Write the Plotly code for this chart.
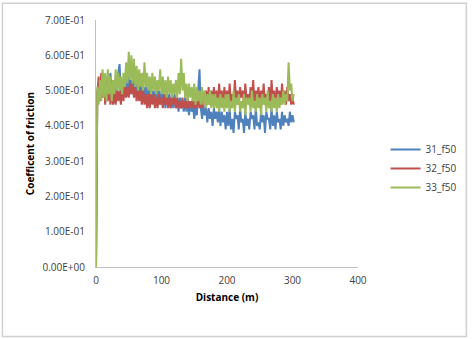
import plotly.graph_objects as go

distance = list(range(0, 304, 2))

s31_f50 = [
    0.0, 0.50, 0.47, 0.53, 0.48, 0.55, 0.49, 0.54, 0.47, 0.52,
    0.48, 0.55, 0.49, 0.53, 0.47, 0.52, 0.48, 0.55, 0.575, 0.49,
    0.53, 0.48, 0.52, 0.49, 0.54, 0.50, 0.55, 0.49, 0.53, 0.50,
    0.54, 0.49, 0.52, 0.48, 0.53, 0.49, 0.52, 0.48, 0.51, 0.47,
    0.52, 0.48, 0.51, 0.47, 0.50, 0.46, 0.51, 0.47, 0.50, 0.46,
    0.50, 0.47, 0.49, 0.45, 0.50, 0.46, 0.49, 0.45, 0.48, 0.45,
    0.49, 0.45, 0.48, 0.44, 0.48, 0.45, 0.47, 0.44, 0.48, 0.44,
    0.47, 0.43, 0.47, 0.44, 0.46, 0.42, 0.46, 0.43, 0.50, 0.56,
    0.45, 0.42, 0.46, 0.43, 0.45, 0.41, 0.45, 0.42, 0.44, 0.40,
    0.45, 0.42, 0.44, 0.41, 0.45, 0.40, 0.44, 0.41, 0.43, 0.39,
    0.44, 0.40, 0.45, 0.39, 0.42, 0.38, 0.44, 0.42, 0.43, 0.39,
    0.45, 0.41, 0.42, 0.38, 0.44, 0.40, 0.42, 0.39, 0.44, 0.42,
    0.43, 0.39, 0.45, 0.40, 0.41, 0.39, 0.44, 0.41, 0.43, 0.38,
    0.44, 0.42, 0.42, 0.39, 0.45, 0.40, 0.43, 0.39, 0.44, 0.41,
    0.42, 0.39, 0.44, 0.40, 0.43, 0.41, 0.42, 0.40, 0.44, 0.41,
    0.43, 0.41,
]

s32_f50 = [
    0.0, 0.49, 0.54, 0.47, 0.55, 0.48, 0.53, 0.46, 0.52, 0.47,
    0.51, 0.46, 0.50, 0.46, 0.49, 0.46, 0.50, 0.47, 0.50, 0.46,
    0.51, 0.47, 0.52, 0.48, 0.51, 0.48, 0.52, 0.49, 0.515, 0.48,
    0.51, 0.47, 0.50, 0.47, 0.50, 0.46, 0.50, 0.46, 0.49, 0.45,
    0.49, 0.45, 0.49, 0.46, 0.49, 0.45, 0.48, 0.45, 0.49, 0.46,
    0.48, 0.45, 0.49, 0.46, 0.48, 0.45, 0.48, 0.45, 0.49, 0.46,
    0.48, 0.45, 0.48, 0.45, 0.47, 0.45, 0.48, 0.45, 0.47, 0.45,
    0.48, 0.45, 0.47, 0.45, 0.48, 0.45, 0.47, 0.45, 0.48, 0.45,
    0.47, 0.45, 0.48, 0.46, 0.50, 0.46, 0.51, 0.46, 0.50, 0.46,
    0.51, 0.47, 0.50, 0.46, 0.52, 0.47, 0.50, 0.46, 0.51, 0.47,
    0.50, 0.46, 0.52, 0.47, 0.49, 0.46, 0.53, 0.47, 0.50, 0.46,
    0.51, 0.48, 0.50, 0.46, 0.52, 0.47, 0.49, 0.46, 0.51, 0.47,
    0.53, 0.46, 0.50, 0.48, 0.51, 0.46, 0.50, 0.47, 0.52, 0.46,
    0.49, 0.47, 0.51, 0.46, 0.53, 0.47, 0.50, 0.46, 0.51, 0.48,
    0.50, 0.46, 0.52, 0.47, 0.50, 0.46, 0.51, 0.47, 0.49, 0.46,
    0.48, 0.46,
]

s33_f50 = [
    0.0, 0.51, 0.46, 0.53, 0.47, 0.56, 0.48, 0.55, 0.47, 0.56,
    0.49, 0.54, 0.47, 0.53, 0.49, 0.56, 0.50, 0.55, 0.50, 0.54,
    0.49, 0.55, 0.51, 0.58, 0.52, 0.61, 0.53, 0.60, 0.52, 0.59,
    0.51, 0.57, 0.50, 0.56, 0.51, 0.55, 0.50, 0.58, 0.51, 0.55,
    0.50, 0.54, 0.49, 0.55, 0.50, 0.54, 0.49, 0.53, 0.50, 0.56,
    0.49, 0.54, 0.49, 0.53, 0.48, 0.54, 0.49, 0.53, 0.48, 0.52,
    0.49, 0.53, 0.48, 0.55, 0.49, 0.59, 0.50, 0.55, 0.48, 0.52,
    0.47, 0.52, 0.48, 0.51, 0.47, 0.52, 0.46, 0.51, 0.47, 0.50,
    0.46, 0.51, 0.46, 0.50, 0.45, 0.49, 0.46, 0.50, 0.45, 0.49,
    0.45, 0.49, 0.45, 0.48, 0.44, 0.49, 0.45, 0.48, 0.44, 0.49,
    0.45, 0.49, 0.44, 0.47, 0.45, 0.50, 0.44, 0.48, 0.46, 0.49,
    0.44, 0.47, 0.45, 0.49, 0.43, 0.48, 0.46, 0.48, 0.44, 0.50,
    0.45, 0.47, 0.44, 0.49, 0.45, 0.48, 0.43, 0.49, 0.46, 0.48,
    0.44, 0.50, 0.45, 0.47, 0.44, 0.49, 0.45, 0.48, 0.44, 0.49,
    0.45, 0.48, 0.46, 0.50, 0.46, 0.49, 0.47, 0.58, 0.50, 0.52,
    0.47, 0.49,
]

series_names = ["31_f50", "32_f50", "33_f50"]
series_colors = ["#4F81BD", "#C0504D", "#9BBB59"]

y_tick_vals = [0.0, 0.1, 0.2, 0.3, 0.4, 0.5, 0.6, 0.7]
y_tick_text = ["0.00E+00", "1.00E-01", "2.00E-01", "3.00E-01",
               "4.00E-01", "5.00E-01", "6.00E-01", "7.00E-01"]
x_tick_vals = [0, 100, 200, 300, 400]

FONT = "Open Sans, Liberation Sans, sans-serif"

fig = go.Figure()
for name, ys, col in zip(series_names, [s31_f50, s32_f50, s33_f50], series_colors):
    fig.add_trace(go.Scatter(x=distance, y=ys, mode="lines", name=name,
                             line=dict(color=col, width=2)))

W, H = 474, 339
L, R, T, B = 96, 112, 18, 72
pw, ph = W - L - R, H - T - B

fig.update_layout(
    width=W, height=H,
    margin=dict(l=L, r=R, t=T, b=B),
    paper_bgcolor="white", plot_bgcolor="white",
    font=dict(family=FONT, size=10, color="#404040"),
    showlegend=True,
    legend=dict(x=(390 - L) / pw, xanchor="left", y=(H - B - 134) / ph, yanchor="top",
                font=dict(size=10, color="#404040"), bgcolor="rgba(0,0,0,0)",
                tracegroupgap=0, itemwidth=30),
    xaxis=dict(range=[0, 400], tickvals=x_tick_vals, showgrid=False, zeroline=False,
               showline=True, linecolor="#BFBFBF", linewidth=1, ticks="",
               ticklabelstandoff=4,
               title=dict(text="<b>Distance (m)</b>", font=dict(size=10, color="#000000"),
                          standoff=7)),
    yaxis=dict(range=[0, 0.7], tickvals=y_tick_vals, ticktext=y_tick_text,
               showgrid=False, zeroline=False, showline=True, linecolor="#BFBFBF",
               linewidth=1, ticks="", ticklabelstandoff=8,
               title=dict(text="<b>Coefficent of friction</b>",
                          font=dict(size=10, color="#000000"), standoff=6)),
    shapes=[dict(type="rect", xref="paper", yref="paper",
                 x0=(1 - L) / pw, x1=(W - 2 - L) / pw,
                 y0=-(B - 2) / ph, y1=1 + (T - 1) / ph,
                 line=dict(color="#D0D0D0", width=1.5), fillcolor="rgba(0,0,0,0)",
                 layer="below")],
)

fig.write_html("out.html")
